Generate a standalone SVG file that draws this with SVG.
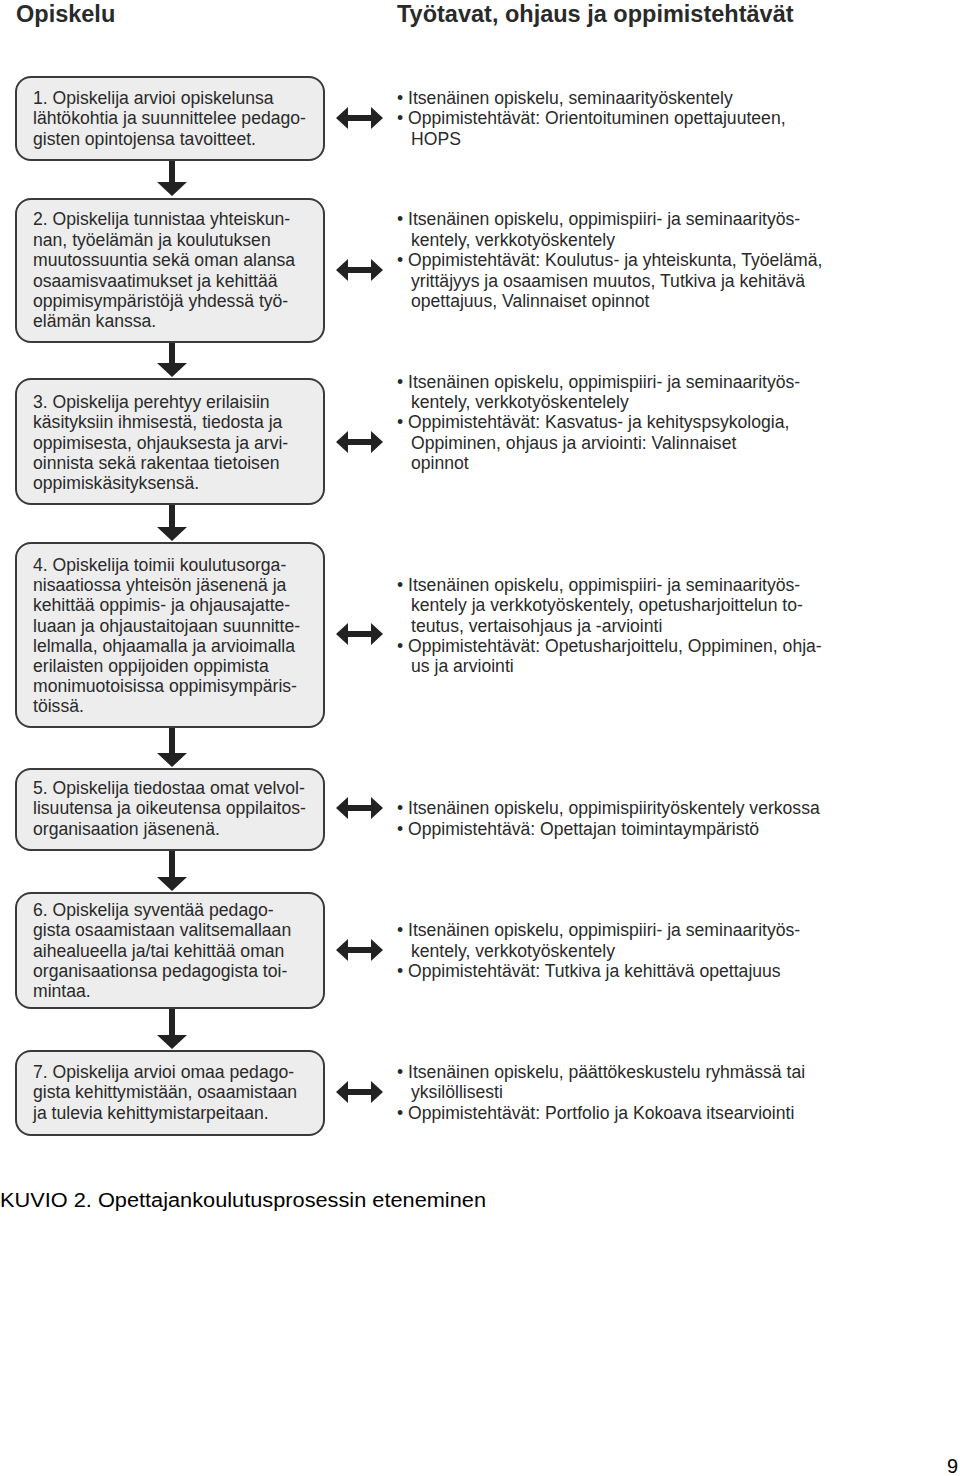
<svg xmlns="http://www.w3.org/2000/svg" width="960" height="1476" viewBox="0 0 960 1476">
<style>
.box{fill:#ededed;stroke:#3a3a3a;stroke-width:2}
.t{font-family:"Liberation Sans",Arial,sans-serif;font-size:17.6px;fill:#2a2a2a}
.h{font-family:"Liberation Sans",Arial,sans-serif;font-size:23.5px;font-weight:bold;fill:#2a2a2a}
.cap{font-family:"Liberation Sans",Arial,sans-serif;font-size:20px;fill:#000}
.ar{fill:#222}
</style>
<defs>
<path id="dbl" d="M0,0 L12,-11 L12,-3 L35,-3 L35,-11 L47,0 L35,11 L35,3 L12,3 L12,11 Z"/>
</defs>
<rect width="960" height="1476" fill="#fff"/>
<text class="h" x="16" y="22">Opiskelu</text>
<text class="h" x="397" y="22">Työtavat, ohjaus ja oppimistehtävät</text>

<g id="connectors" class="ar">
<path d="M169,160 h6 v22 h12 l-15,14 l-15,-14 h12 z"/>
<path d="M169,342 h6 v21 h12 l-15,14 l-15,-14 h12 z"/>
<path d="M169,504 h6 v23 h12 l-15,14 l-15,-14 h12 z"/>
<path d="M169,727 h6 v26 h12 l-15,14 l-15,-14 h12 z"/>
<path d="M169,850 h6 v27 h12 l-15,14 l-15,-14 h12 z"/>
<path d="M169,1008 h6 v27 h12 l-15,14 l-15,-14 h12 z"/>
<use href="#dbl" x="336" y="118"/>
<use href="#dbl" x="336" y="270"/>
<use href="#dbl" x="336" y="442"/>
<use href="#dbl" x="336" y="634"/>
<use href="#dbl" x="336" y="808"/>
<use href="#dbl" x="336" y="950"/>
<use href="#dbl" x="336" y="1092"/>
</g>

<g id="n1">
<rect class="box" x="16" y="77" width="308" height="83" rx="15"/>
<text class="t" x="33" y="104">1. Opiskelija arvioi opiskelunsa</text>
<text class="t" x="33" y="124">lähtökohtia ja suunnittelee pedago-</text>
<text class="t" x="33" y="145">gisten opintojensa tavoitteet.</text>
</g>
<g id="r1">
<text class="t" x="397" y="104">• Itsenäinen opiskelu, seminaarityöskentely</text>
<text class="t" x="397" y="124">• Oppimistehtävät: Orientoituminen opettajuuteen,</text>
<text class="t" x="411" y="145">HOPS</text>
</g>

<g id="n2">
<rect class="box" x="16" y="199" width="308" height="143" rx="15"/>
<text class="t" x="33" y="225">2. Opiskelija tunnistaa yhteiskun-</text>
<text class="t" x="33" y="246">nan, työelämän ja koulutuksen</text>
<text class="t" x="33" y="266">muutossuuntia sekä oman alansa</text>
<text class="t" x="33" y="287">osaamisvaatimukset ja kehittää</text>
<text class="t" x="33" y="307">oppimisympäristöjä yhdessä työ-</text>
<text class="t" x="33" y="327">elämän kanssa.</text>
</g>
<g id="r2">
<text class="t" x="397" y="225">• Itsenäinen opiskelu, oppimispiiri- ja seminaarityös-</text>
<text class="t" x="411" y="246">kentely, verkkotyöskentely</text>
<text class="t" x="397" y="266">• Oppimistehtävät: Koulutus- ja yhteiskunta, Työelämä,</text>
<text class="t" x="411" y="287">yrittäjyys ja osaamisen muutos, Tutkiva ja kehitävä</text>
<text class="t" x="411" y="307">opettajuus, Valinnaiset opinnot</text>
</g>

<g id="n3">
<rect class="box" x="16" y="379" width="308" height="125" rx="15"/>
<text class="t" x="33" y="408">3. Opiskelija perehtyy erilaisiin</text>
<text class="t" x="33" y="428">käsityksiin ihmisestä, tiedosta ja</text>
<text class="t" x="33" y="449">oppimisesta, ohjauksesta ja arvi-</text>
<text class="t" x="33" y="469">oinnista sekä rakentaa tietoisen</text>
<text class="t" x="33" y="489">oppimiskäsityksensä.</text>
</g>
<g id="r3">
<text class="t" x="397" y="388">• Itsenäinen opiskelu, oppimispiiri- ja seminaarityös-</text>
<text class="t" x="411" y="408">kentely, verkkotyöskentelely</text>
<text class="t" x="397" y="428">• Oppimistehtävät: Kasvatus- ja kehityspsykologia,</text>
<text class="t" x="411" y="449">Oppiminen, ohjaus ja arviointi: Valinnaiset</text>
<text class="t" x="411" y="469">opinnot</text>
</g>

<g id="n4">
<rect class="box" x="16" y="543" width="308" height="184" rx="15"/>
<text class="t" x="33" y="571">4. Opiskelija toimii koulutusorga-</text>
<text class="t" x="33" y="591">nisaatiossa yhteisön jäsenenä ja</text>
<text class="t" x="33" y="611">kehittää oppimis- ja ohjausajatte-</text>
<text class="t" x="33" y="632">luaan ja ohjaustaitojaan suunnitte-</text>
<text class="t" x="33" y="652">lelmalla, ohjaamalla ja arvioimalla</text>
<text class="t" x="33" y="672">erilaisten oppijoiden oppimista</text>
<text class="t" x="33" y="692">monimuotoisissa oppimisympäris-</text>
<text class="t" x="33" y="712">töissä.</text>
</g>
<g id="r4">
<text class="t" x="397" y="591">• Itsenäinen opiskelu, oppimispiiri- ja seminaarityös-</text>
<text class="t" x="411" y="611">kentely ja verkkotyöskentely, opetusharjoittelun to-</text>
<text class="t" x="411" y="632">teutus, vertaisohjaus ja -arviointi</text>
<text class="t" x="397" y="652">• Oppimistehtävät: Opetusharjoittelu, Oppiminen, ohja-</text>
<text class="t" x="411" y="672">us ja arviointi</text>
</g>

<g id="n5">
<rect class="box" x="16" y="769" width="308" height="81" rx="15"/>
<text class="t" x="33" y="794">5. Opiskelija tiedostaa omat velvol-</text>
<text class="t" x="33" y="814">lisuutensa ja oikeutensa oppilaitos-</text>
<text class="t" x="33" y="835">organisaation jäsenenä.</text>
</g>
<g id="r5">
<text class="t" x="397" y="814">• Itsenäinen opiskelu, oppimispiirityöskentely verkossa</text>
<text class="t" x="397" y="835">• Oppimistehtävä: Opettajan toimintaympäristö</text>
</g>

<g id="n6">
<rect class="box" x="16" y="893" width="308" height="115" rx="15"/>
<text class="t" x="33" y="916">6. Opiskelija syventää pedago-</text>
<text class="t" x="33" y="936">gista osaamistaan valitsemallaan</text>
<text class="t" x="33" y="957">aihealueella ja/tai kehittää oman</text>
<text class="t" x="33" y="977">organisaationsa pedagogista toi-</text>
<text class="t" x="33" y="997">mintaa.</text>
</g>
<g id="r6">
<text class="t" x="397" y="936">• Itsenäinen opiskelu, oppimispiiri- ja seminaarityös-</text>
<text class="t" x="411" y="957">kentely, verkkotyöskentely</text>
<text class="t" x="397" y="977">• Oppimistehtävät: Tutkiva ja kehittävä opettajuus</text>
</g>

<g id="n7">
<rect class="box" x="16" y="1051" width="308" height="84" rx="15"/>
<text class="t" x="33" y="1078">7. Opiskelija arvioi omaa pedago-</text>
<text class="t" x="33" y="1098">gista kehittymistään, osaamistaan</text>
<text class="t" x="33" y="1119">ja tulevia kehittymistarpeitaan.</text>
</g>
<g id="r7">
<text class="t" x="397" y="1078">• Itsenäinen opiskelu, päättökeskustelu ryhmässä tai</text>
<text class="t" x="411" y="1098">yksilöllisesti</text>
<text class="t" x="397" y="1119">• Oppimistehtävät: Portfolio ja Kokoava itsearviointi</text>
</g>

<text class="cap" x="0" y="1207" textLength="486" lengthAdjust="spacingAndGlyphs">KUVIO 2. Opettajankoulutusprosessin eteneminen</text>
<text class="cap" x="947" y="1473">9</text>
</svg>
